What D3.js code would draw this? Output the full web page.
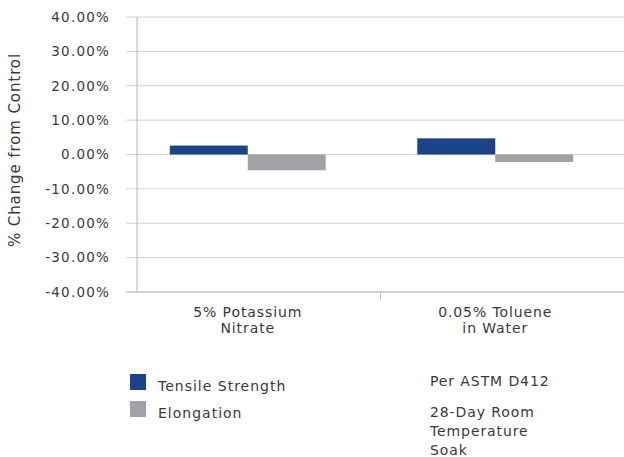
<!DOCTYPE html>
<html>
<head>
<meta charset="utf-8">
<script src="https://cdn.jsdelivr.net/npm/d3@7"></script>
<style>
  body { margin: 0; background: #fff; }
  text { font-family: "DejaVu Sans", sans-serif; fill: #3a3a3a; }
</style>
</head>
<body>
<svg id="chart" width="624" height="457"></svg>
<script>
// data
const categories = ["5% Potassium\nNitrate", "0.05% Toluene\nin Water"];
const series = ["Tensile Strength", "Elongation"];
const tensile = [2.6, 4.7];
const elongation = [-4.6, -2.2];
const yTicks = [40, 30, 20, 10, 0, -10, -20, -30, -40];
const notes = ["Per ASTM D412", "28-Day Room\nTemperature\nSoak"];

const colors = { "Tensile Strength": "#1b448b", "Elongation": "#a1a2a6" };

const svg = d3.select("#chart");
const plot = { left: 137, right: 624, top: 17, bottom: 292 };

const y = d3.scaleLinear().domain([-40, 40]).range([plot.bottom, plot.top]);

// category scale for the divider tick
const xAxisScale = d3.scaleBand().domain(categories).range([plot.left, plot.right]);
// bar placement (bars sit a little left of band centre in the original)
const x0 = d3.scaleBand().domain(categories).range([124, 619]);
const x1 = d3.scaleBand().domain(series).range([0, x0.bandwidth()]).paddingOuter(0.587);

// gridlines
svg.append("g")
  .selectAll("line")
  .data(yTicks)
  .join("line")
  .attr("x1", plot.left - 11)
  .attr("x2", plot.right)
  .attr("y1", (d) => y(d))
  .attr("y2", (d) => y(d))
  .attr("stroke", (d) => (d === -40 ? "#a8a8a8" : "#d2d2d2"))
  .attr("stroke-width", 1);

// y axis line
svg.append("line")
  .attr("x1", plot.left).attr("x2", plot.left)
  .attr("y1", plot.top).attr("y2", plot.bottom)
  .attr("stroke", "#b4b4b4");

// divider tick between categories
svg.append("line")
  .attr("x1", xAxisScale(categories[1])).attr("x2", xAxisScale(categories[1]))
  .attr("y1", plot.bottom).attr("y2", plot.bottom + 8)
  .attr("stroke", "#c4c4c4");

// y tick labels (plain hyphen for negatives, like the original)
svg.append("g")
  .selectAll("text")
  .data(yTicks)
  .join("text")
  .attr("x", 110)
  .attr("y", (d) => y(d))
  .attr("dy", "0.36em")
  .attr("text-anchor", "end")
  .style("font-size", "13.5px")
  .style("letter-spacing", "1.2px")
  .text((d) => d.toFixed(2) + "%");

// y axis title
svg.append("text")
  .attr("transform", "translate(20,150) rotate(-90)")
  .attr("text-anchor", "middle")
  .style("font-size", "15px")
  .style("letter-spacing", "0.9px")
  .text("% Change from Control");

// bars
const rows = categories.map((c, i) => ({ cat: c, values: [
  { key: series[0], value: tensile[i] },
  { key: series[1], value: elongation[i] },
] }));

svg.append("g")
  .selectAll("g")
  .data(rows)
  .join("g")
  .attr("transform", (d) => `translate(${x0(d.cat)},0)`)
  .selectAll("rect")
  .data((d) => d.values)
  .join("rect")
  .attr("x", (d) => x1(d.key))
  .attr("width", x1.bandwidth())
  .attr("y", (d) => y(Math.max(0, d.value)))
  .attr("height", (d) => Math.abs(y(d.value) - y(0)))
  .attr("fill", (d) => colors[d.key]);

// category labels
const catLabel = svg.append("g")
  .selectAll("text")
  .data(categories)
  .join("text")
  .attr("text-anchor", "middle")
  .style("font-size", "14px")
  .style("letter-spacing", "0.9px");
catLabel.each(function (d) {
  const cx = x0(d) + x0.bandwidth() / 2;
  d.split("\n").forEach((line, i) => {
    d3.select(this).append("tspan")
      .attr("x", cx)
      .attr("y", 316.5 + i * 16)
      .text(line);
  });
});

// legend
const legend = svg.append("g")
  .selectAll("g")
  .data(series)
  .join("g")
  .attr("transform", (d, i) => `translate(130,${374 + i * 27})`);
legend.append("rect")
  .attr("width", 16).attr("height", 16)
  .attr("fill", (d) => colors[d]);
legend.append("text")
  .attr("x", 28).attr("y", 16.5)
  .style("font-size", "14px")
  .style("letter-spacing", "1px")
  .text((d) => d);

// notes on the right
const noteStart = [386, 416.5];
notes.forEach((n, k) => {
  const t = svg.append("text")
    .style("font-size", "14px")
    .style("letter-spacing", "0.9px");
  n.split("\n").forEach((line, i) => {
    t.append("tspan").attr("x", 430).attr("y", noteStart[k] + i * 19).text(line);
  });
});
</script>
</body>
</html>
